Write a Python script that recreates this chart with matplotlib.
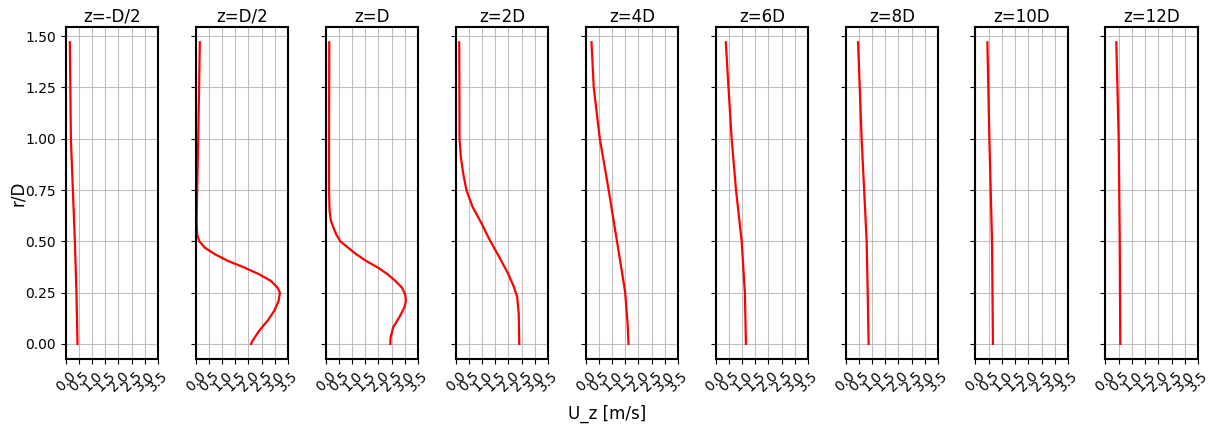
import matplotlib
matplotlib.use("Agg")
import matplotlib.pyplot as plt
import numpy as np

titles = ["z=-D/2", "z=D/2", "z=D", "z=2D", "z=4D", "z=6D", "z=8D", "z=10D", "z=12D"]
xticks = [0.0, 0.5, 1.0, 1.5, 2.0, 2.5, 3.0, 3.5]

# r/D values and U_z values read for each profile
r_m05 = [1.47, 1.0, 0.5, 0.25, 0.0]
u_m05 = [0.16, 0.20, 0.35, 0.41, 0.45]

r_05 = [1.47, 1.0, 0.75, 0.60, 0.534, 0.50, 0.469, 0.437, 0.404, 0.372, 0.339, 0.307,
        0.274, 0.25, 0.209, 0.162, 0.114, 0.065, 0.016, 0.0]
u_05 = [0.16, 0.10, 0.06, 0.04, 0.06, 0.14, 0.35, 0.73, 1.23, 1.85, 2.41, 2.85,
        3.10, 3.19, 3.14, 2.98, 2.73, 2.41, 2.16, 2.10]

r_1 = [1.47, 1.0, 0.75, 0.65, 0.60, 0.534, 0.50, 0.469, 0.437, 0.404, 0.372, 0.339,
       0.307, 0.274, 0.242, 0.209, 0.177, 0.13, 0.081, 0.032, 0.0]
u_1 = [0.14, 0.13, 0.13, 0.15, 0.20, 0.40, 0.56, 0.85, 1.16, 1.54, 1.98, 2.35,
       2.64, 2.89, 3.01, 3.04, 2.98, 2.79, 2.56, 2.46, 2.45]

r_2 = [1.47, 1.0, 0.91, 0.83, 0.75, 0.669, 0.588, 0.507, 0.426, 0.345, 0.28, 0.23, 0.146, 0.0]
u_2 = [0.14, 0.15, 0.20, 0.29, 0.41, 0.64, 0.98, 1.29, 1.64, 1.98, 2.20, 2.33, 2.39, 2.41]

r_4 = [1.47, 1.25, 1.0, 0.75, 0.5, 0.3, 0.25, 0.1, 0.0]
u_4 = [0.225, 0.31, 0.54, 0.875, 1.19, 1.44, 1.50, 1.59, 1.625]

r_6 = [1.47, 1.25, 1.0, 0.75, 0.5, 0.25, 0.0]
u_6 = [0.39, 0.49, 0.61, 0.775, 0.99, 1.11, 1.15]

r_8 = [1.47, 1.0, 0.5, 0.25, 0.0]
u_8 = [0.475, 0.61, 0.80, 0.84, 0.875]

r_10 = [1.47, 1.0, 0.5, 0.0]
u_10 = [0.45, 0.525, 0.625, 0.66]

r_12 = [1.47, 1.0, 0.5, 0.0]
u_12 = [0.41, 0.50, 0.54, 0.56]

profiles = [(u_m05, r_m05), (u_05, r_05), (u_1, r_1), (u_2, r_2), (u_4, r_4),
            (u_6, r_6), (u_8, r_8), (u_10, r_10), (u_12, r_12)]

fig, axes = plt.subplots(1, 9, figsize=(12.15, 4.32), dpi=100, sharey=True)
fig.subplots_adjust(left=0.054, right=0.986, top=0.937, bottom=0.169, wspace=0.405)

for ax, title, (u, r) in zip(axes, titles, profiles):
    ax.plot(u, r, color="red", lw=1.6, solid_joinstyle="round")
    ax.set_xlim(0, 3.5)
    ax.set_xticks(xticks)
    ax.set_xticklabels([f"{t:.1f}" for t in xticks], rotation=45, fontsize=10)
    ax.set_title(title, fontsize=12, pad=4)
    ax.grid(True, color="#b0b0b0", lw=0.8, alpha=0.8)
    for s in ax.spines.values():
        s.set_linewidth(1.5)
    ax.tick_params(axis="y", labelsize=10)

axes[0].set_ylim(-0.0735, 1.5435)
axes[0].set_yticks([0.0, 0.25, 0.5, 0.75, 1.0, 1.25, 1.5])
axes[0].set_yticklabels(["0.00", "0.25", "0.50", "0.75", "1.00", "1.25", "1.50"])
axes[0].set_ylabel("r/D", fontsize=12, labelpad=-1)
fig.supxlabel("U_z [m/s]", fontsize=12, y=0.02)

fig.savefig("out.png", dpi=100)
